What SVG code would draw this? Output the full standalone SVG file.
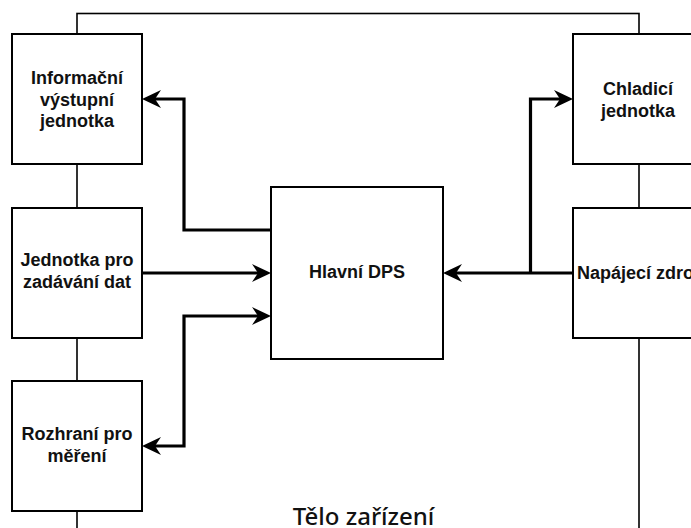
<svg xmlns="http://www.w3.org/2000/svg" width="691" height="528" viewBox="0 0 691 528">
<style>
.box{fill:#fff;stroke:#000;stroke-width:2}
.cont{fill:none;stroke:#000;stroke-width:1.6}
.lbl{font-family:"Liberation Sans",Arial,sans-serif;font-weight:bold;font-size:18px;fill:#111;text-anchor:middle}
.title{font-family:"Noto Sans","Open Sans",sans-serif;font-weight:500;font-size:24px;fill:#111;text-anchor:middle}
.con{fill:none;stroke:#000;stroke-width:3.2}
.arr{marker-end:url(#ah)}
.bi{marker-start:url(#ahs);marker-end:url(#ah)}
</style>
<defs>
<marker id="ah" markerUnits="userSpaceOnUse" markerWidth="22" markerHeight="22" viewBox="-21 -11 22 22" refX="-10" refY="0" orient="auto">
<path d="M0,0 L-19,-9 L-13,0 L-19,9 Z" fill="#000"/>
</marker>
<marker id="ahs" markerUnits="userSpaceOnUse" markerWidth="22" markerHeight="22" viewBox="-21 -11 22 22" refX="-10" refY="0" orient="auto-start-reverse">
<path d="M0,0 L-19,-9 L-13,0 L-19,9 Z" fill="#000"/>
</marker>
</defs>
<rect width="691" height="528" fill="#fff"/>
<g id="body">
<rect class="cont" x="77" y="13.5" width="562" height="560"/>
<text class="title" x="363.5" y="525">Tělo zařízení</text>
</g>
<g id="connectors">
<path class="con arr" d="M271,230 H184 V99 H152"/>
<path class="con arr" d="M142,273 H261"/>
<path class="con bi" d="M261,316 H184 V446 H152"/>
<path class="con arr" d="M573,273 H453"/>
<path class="con arr" d="M530.5,273 V99 H563"/>
</g>
<g id="info">
<rect class="box" x="12" y="34" width="130" height="130"/>
<text class="lbl" x="77" y="84">Informační</text>
<text class="lbl" x="77" y="105.5">výstupní</text>
<text class="lbl" x="77" y="127">jednotka</text>
</g>
<g id="input">
<rect class="box" x="12" y="208" width="130" height="130"/>
<text class="lbl" x="77" y="266">Jednotka pro</text>
<text class="lbl" x="77" y="288">zadávání dat</text>
</g>
<g id="measure">
<rect class="box" x="12" y="381" width="130" height="130"/>
<text class="lbl" x="77" y="439.5">Rozhraní pro</text>
<text class="lbl" x="77" y="461.5">měření</text>
</g>
<g id="main">
<rect class="box" x="271" y="187" width="172" height="172"/>
<text class="lbl" x="357" y="277.5">Hlavní DPS</text>
</g>
<g id="cooling">
<rect class="box" x="573" y="34" width="130" height="130"/>
<text class="lbl" x="638" y="94.5">Chladicí</text>
<text class="lbl" x="638" y="116.5">jednotka</text>
</g>
<g id="power">
<rect class="box" x="573" y="208" width="130" height="130"/>
<text class="lbl" x="638" y="279">Napájecí zdroj</text>
</g>
</svg>
